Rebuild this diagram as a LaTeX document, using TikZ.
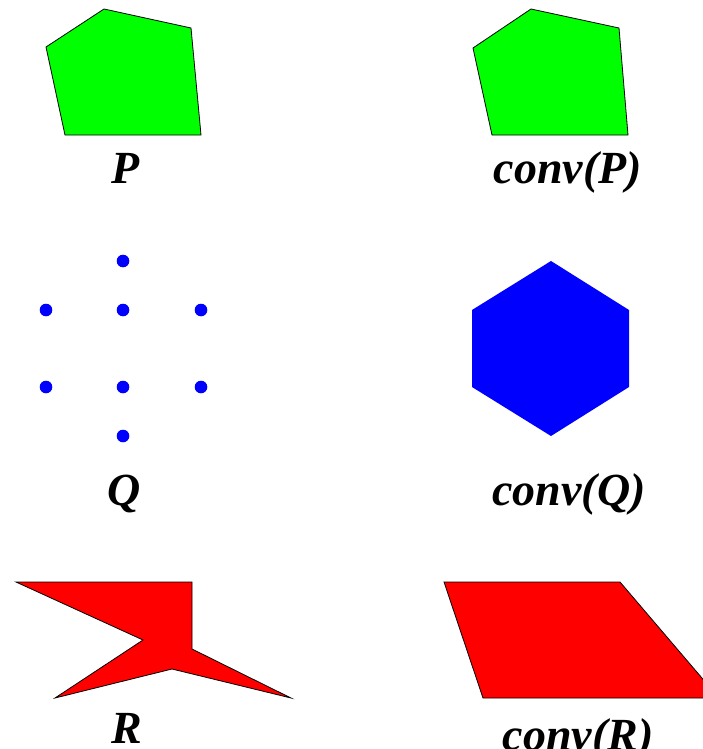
\documentclass[tikz,border=0pt]{standalone}
\usepackage{fontspec}
\setmainfont{Liberation Serif}
\usepackage{tikz}
\usetikzlibrary{positioning}
\definecolor{polyg}{HTML}{00FF00}
\definecolor{polyb}{HTML}{0000FF}
\definecolor{polyr}{HTML}{FF0000}
\tikzset{
  region/.style = {draw=black, line width=0.8pt, line join=miter},
  pt/.style     = {fill=polyb},
  lab/.style    = {font=\fontsize{46}{50}\selectfont\bfseries\itshape,
                   anchor=base, inner sep=0pt},
}

\begin{document}
\begin{tikzpicture}[x=1pt,y=-1pt]
    \useasboundingbox (0,0) rectangle (703,749);
    \clip (0,0) rectangle (703,749);
    % top row: P and its hull
    \filldraw[region,fill=polyg] (46,47) -- (104,9) -- (191,28) -- (201,135) -- (65,135) -- cycle;
    \filldraw[region,fill=polyg] (473,48) -- (531,9) -- (619,28) -- (628,135) -- (492,135) -- cycle;
    \node[lab] (labP) at (126,183) {P};
    \node[lab] (labcP) at (568,183) {conv(P)};
    % middle row: points of Q and the hexagon
    \foreach \x/\y in {123/261, 46/310, 123/310, 201/310,
                       46/387, 123/387, 201/387, 123/436}{
      \fill[pt] (\x,\y) circle (6.3);}
    \fill[polyb] (551,261) -- (629,310) -- (629,387) -- (551,436) -- (472,387) -- (472,310) -- cycle;
    \node[lab] (labQ) at (124,505) {Q};
    \node[lab] (labcQ) at (569,505) {conv(Q)};
    % bottom row: R and its hull
    \filldraw[region,fill=polyr] (16,582) -- (192,582) -- (192,649) -- (291,698) -- (172,669)
      -- (55,698) -- (143,640) -- cycle;
    \filldraw[region,fill=polyr] (444,582) -- (620,582) -- (719,698) -- (483,698) -- cycle;
    \node[lab] (labR) at (127,743) {R};
    \node[lab] (labcR) at (578,750) {conv(R)};
\end{tikzpicture}
\end{document}
